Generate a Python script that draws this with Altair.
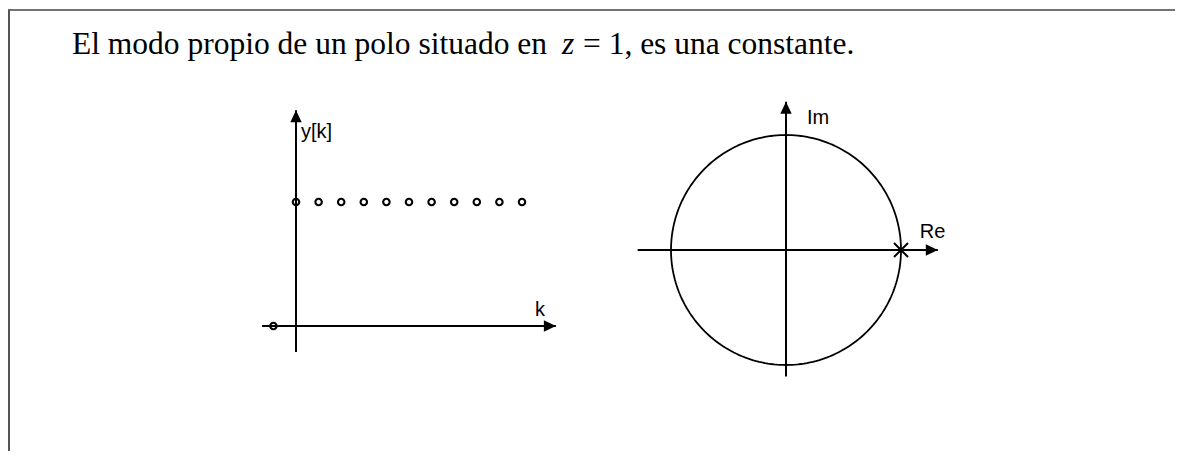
import altair as alt
import numpy as np
import pandas as pd

# ---------------- data ----------------
k_vals = [-1, 0, 1, 2, 3, 4, 5, 6, 7, 8, 9, 10]
y_vals = [0, 1, 1, 1, 1, 1, 1, 1, 1, 1, 1, 1]

pole_re = [1.0]
pole_im = [0.0]

title_parts = ["El modo propio de un polo situado en", "z", "= 1, es una constante."]
label_time_y = "y[k]"
label_time_x = "k"
label_re = "Re"
label_im = "Im"

# ---------------- layout ----------------
W, H = 1167, 443
# left plot: origin (chart px) and px per unit
L_OX, L_OY, L_SX, L_SY = 288, 318, 22.6, 124
# right plot: origin and radius px
R_OX, R_OY, R_S = 778, 242, 115

xdom_L = [-L_OX / L_SX, (W - L_OX) / L_SX]
ydom_L = [-(H - L_OY) / L_SY, L_OY / L_SY]
xdom_R = [-R_OX / R_S, (W - R_OX) / R_S]
ydom_R = [-(H - R_OY) / R_S, R_OY / R_S]

# axis extents (data units)
L_XAXIS = (-1.5, 11.5)
L_YAXIS = (-0.21, 1.74)
R_XAXIS = (-1.29, 1.32)
R_YAXIS = (-1.10, 1.29)

BLACK = "#000000"
SANS = "Liberation Sans"
SERIF = "Liberation Serif"
LAB_SIZE = 20
TITLE_SIZE = 31.5
ARROW_R = "M0,0L-2,-0.95L-2,0.95Z"
ARROW_U = "M0,0L-0.95,2L0.95,2Z"
CROSS = "M-1,-1L1,1M-1,1L1,-1"


def X(field, dom):
    return alt.X(field, type="quantitative", scale=alt.Scale(domain=dom, nice=False, zero=False), axis=None)


def Y(field, dom):
    return alt.Y(field, type="quantitative", scale=alt.Scale(domain=dom, nice=False, zero=False), axis=None)


def axis_layers(xdom, ydom, xext, yext):
    hdf = pd.DataFrame({"x1": [xext[0]], "x2": [xext[1]], "y": [0.0]})
    vdf = pd.DataFrame({"x": [0.0], "y1": [yext[0]], "y2": [yext[1]]})
    hrule = alt.Chart(hdf).mark_rule(color=BLACK, strokeWidth=2).encode(
        x=X("x1", xdom), x2="x2", y=Y("y", ydom))
    vrule = alt.Chart(vdf).mark_rule(color=BLACK, strokeWidth=2).encode(
        x=X("x", xdom), y=Y("y1", ydom), y2="y2")
    harrow = alt.Chart(hdf).mark_point(shape=ARROW_R, filled=True, size=144, color=BLACK, opacity=1, strokeWidth=0).encode(
        x=X("x2", xdom), y=Y("y", ydom))
    varrow = alt.Chart(vdf).mark_point(shape=ARROW_U, filled=True, size=144, color=BLACK, opacity=1, strokeWidth=0).encode(
        x=X("x", xdom), y=Y("y2", ydom))
    return [hrule, vrule, harrow, varrow], hdf, vdf


# ---------------- left plot ----------------
left_axes, lh, lv = axis_layers(xdom_L, ydom_L, L_XAXIS, L_YAXIS)
seq = pd.DataFrame({"k": k_vals, "y": y_vals})
pts = alt.Chart(seq).mark_point(shape="circle", filled=False, size=42, strokeWidth=2.1,
                                color=BLACK, opacity=1).encode(
    x=X("k", xdom_L), y=Y("y", ydom_L))
lab_y = alt.Chart(lv).mark_text(text=label_time_y, font=SANS, fontSize=LAB_SIZE, align="left",
                                baseline="alphabetic", dx=5, dy=28, color=BLACK).encode(
    x=X("x", xdom_L), y=Y("y2", ydom_L))
lab_k = alt.Chart(lh).mark_text(text=label_time_x, font=SANS, fontSize=LAB_SIZE, align="left",
                                baseline="alphabetic", dx=-21, dy=-10, color=BLACK).encode(
    x=X("x2", xdom_L), y=Y("y", ydom_L))

# ---------------- right plot ----------------
right_axes, rh, rv = axis_layers(xdom_R, ydom_R, R_XAXIS, R_YAXIS)
t = np.linspace(0, 2 * np.pi, 241)
circ = pd.DataFrame({"i": np.arange(len(t)), "re": np.cos(t), "im": np.sin(t)})
circle = alt.Chart(circ).mark_line(color=BLACK, strokeWidth=1.8).encode(
    x=X("re", xdom_R), y=Y("im", ydom_R), order="i:Q")
poles = pd.DataFrame({"re": pole_re, "im": pole_im})
pole = alt.Chart(poles).mark_point(shape=CROSS, filled=False, size=196, strokeWidth=2,
                                   color=BLACK, opacity=1).encode(
    x=X("re", xdom_R), y=Y("im", ydom_R))
lab_im = alt.Chart(rv).mark_text(text=label_im, font=SANS, fontSize=LAB_SIZE, align="left",
                                 baseline="alphabetic", dx=21, dy=22, color=BLACK).encode(
    x=X("x", xdom_R), y=Y("y2", ydom_R))
lab_re = alt.Chart(rh).mark_text(text=label_re, font=SANS, fontSize=LAB_SIZE, align="left",
                                 baseline="alphabetic", dx=-18, dy=-12, color=BLACK).encode(
    x=X("x2", xdom_R), y=Y("y", ydom_R))

# ---------------- title and frame ----------------
one = pd.DataFrame({"a": [0]})
title_a = alt.Chart(one).mark_text(text=title_parts[0], font=SERIF, fontSize=TITLE_SIZE,
                                   align="left", baseline="alphabetic", color=BLACK).encode(
    x=alt.value(64), y=alt.value(46))
title_z = alt.Chart(one).mark_text(text=title_parts[1], font=SERIF, fontSize=TITLE_SIZE, fontStyle="italic",
                                   align="left", baseline="alphabetic", color=BLACK).encode(
    x=alt.value(554), y=alt.value(46))
title_b = alt.Chart(one).mark_text(text=title_parts[2], font=SERIF, fontSize=TITLE_SIZE,
                                   align="left", baseline="alphabetic", color=BLACK).encode(
    x=alt.value(575), y=alt.value(46))
frame_top = alt.Chart(one).mark_rule(color="#444444", strokeWidth=1.5).encode(
    x=alt.value(0), x2=alt.value(W), y=alt.value(2))
frame_left = alt.Chart(one).mark_rule(color="#555555", strokeWidth=2).encode(
    x=alt.value(1), y=alt.value(2), y2=alt.value(H))

chart = alt.layer(
    frame_top, frame_left, title_a, title_z, title_b,
    *left_axes, pts, lab_y, lab_k,
    *right_axes, circle, pole, lab_im, lab_re,
).resolve_scale(x="independent", y="independent").properties(
    width=W, height=H, padding=0, autosize=alt.AutoSizeParams(type="none"),
    background="white",
).configure_view(stroke=None)

chart.save("out.html", embed_options={"renderer": "svg", "actions": False})
